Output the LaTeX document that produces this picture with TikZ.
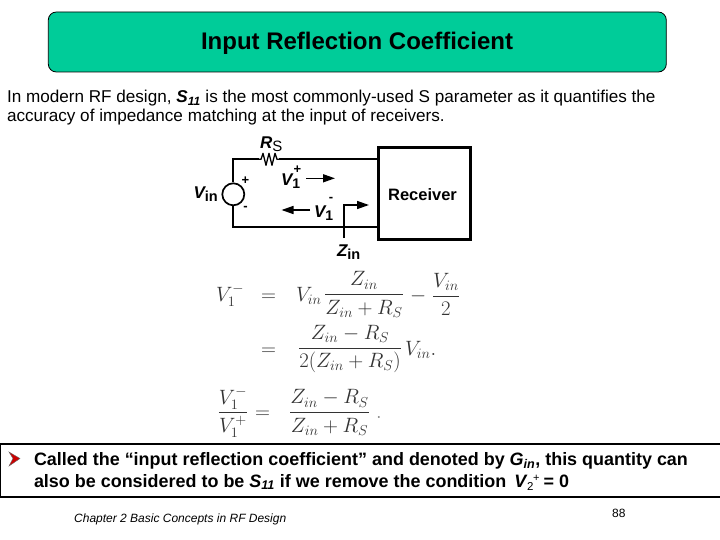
\documentclass[tikz,border=0pt]{standalone}
\usepackage[no-math]{fontspec}
\usepackage{amsmath}
\newfontfamily\arial{Liberation Sans}
\usetikzlibrary{arrows.meta}
\definecolor{headgreen}{HTML}{00CC99}
\definecolor{eqgray}{HTML}{333333}
\newcommand{\fsz}[1]{\fontsize{#1}{#1}\selectfont}
\tikzset{
  x=1pt,y=-1pt,
  txt/.style={inner sep=0pt,outer sep=0pt,anchor=base west,font=\arial\fsz{17.12},text=black},
  boldtxt/.style={txt,font=\arial\bfseries\fsz{17.95}},
  wire/.style={line width=1.9pt,draw=black,line join=miter},
  cirlab/.style={inner sep=0pt,outer sep=0pt,font=\arial\bfseries\itshape\fsz{17}},
  sign/.style={inner sep=0pt,outer sep=0pt,font=\arial\bfseries\fsz{13}},
  wave/.style={line width=1.5pt,-{Triangle[length=12pt,width=8pt]}},
  eqn/.style={inner sep=0pt,outer sep=0pt,anchor=base west,text=eqgray,font=\fsz{22}},
}
\begin{document}
\begin{tikzpicture}
\useasboundingbox (0,0) rectangle (720,540);
\fill[white] (0,0) rectangle (720,540);
% header
\node[draw=black,line width=0.8pt,fill=headgreen,rounded corners=8pt,minimum width=618pt,minimum height=60pt,inner sep=0pt] (head) at (357.3,42) {};
\node[inner sep=0pt,font=\arial\bfseries\fsz{24}] (title) at (357,43.5) {Input Reflection Coefficient};
% paragraph
\node[txt] (p1) at (7,103) {In modern RF design, \textit{\textbf{S}\textsubscript{\textbf{11}}} is the most commonly-used S parameter as it quantifies the};
\node[txt] (p2) at (7,122) {accuracy of impedance matching at the input of receivers.};
% circuit
\node[draw=black,line width=2.8pt,minimum width=92pt,minimum height=92pt,inner sep=0pt] (rx) at (424.3,193.8) {};
\node[inner sep=0pt,font=\arial\bfseries\fsz{16.5}] (rxt) at (422.5,194.5) {Receiver};
\node[circle,draw=black,line width=1.7pt,minimum size=22pt,inner sep=0pt] (src) at (233.3,194.3) {};
\coordinate (rl) at (259,159.3);
\coordinate (rr) at (279,159.3);
\coordinate (tc) at (233.3,159.3);
\coordinate (bc) at (233.3,226.7);
\coordinate (rxtop) at (377.7,159.3);
\coordinate (rxbot) at (377.7,226.7);
\draw[wire] (src.north) -- (tc) -- (rl);
\draw[line width=1.3pt,line join=round] (rl) -- ++(2,0) -- ++(2,-6) -- ++(3,12) -- ++(3,-12) -- ++(3,12) -- ++(3,-12) -- ++(2,6) -- (rr);
\draw[wire] (rr) -- (rxtop);
\draw[wire] (src.south) -- (bc) -- (rxbot);
\coordinate (zb) at (344,238);
\coordinate (zc) at (344,205);
\coordinate (ze) at (369,205);
\draw[line width=1.5pt] (zb) -- (zc);
\draw[wave] (343.3,205) -- (ze);
\coordinate (ap1) at (306,178.3); \coordinate (ap2) at (335,178.3);
\coordinate (am1) at (310,210); \coordinate (am2) at (281.5,210);
\draw[wave] (ap1) -- (ap2);
\draw[wave] (am1) -- (am2);
\node[cirlab,anchor=base west] (lrs) at (260,149) {R\raisebox{-2.5pt}{\textup{\fsz{15}\mdseries S}}};
\node[cirlab,anchor=base west] (lvin) at (193.5,199) {V\raisebox{-3pt}{\textup{\fsz{14.5}\bfseries in}}};
\node[cirlab,anchor=base west] (lvp) at (281,185.5) {V\raisebox{-3pt}{\textup{\fsz{14}1}}};
\node[sign] (lvps) at (297.5,170) {+};
\node[cirlab,anchor=base west] (lvm) at (314,217.5) {V\raisebox{-3pt}{\textup{\fsz{14}1}}};
\node[sign] (lvms) at (331,199) {-};
\node[sign] (sp) at (245.5,180.5) {+};
\node[sign] (sm) at (245.5,208.5) {-};
\node[cirlab,anchor=base west] (lz) at (337,256) {Z\raisebox{-3pt}{\textup{\fsz{14.5}\bfseries in}}};
% equations
\node[eqn] (e1) at (216,301) {$V_1^-$};
\node[eqn] (e2) at (261,301) {$=$};
\node[eqn] (e3) at (296,301) {$V_{in}$};
\node[eqn,anchor=center] (e4) at (364,294.5) {$\displaystyle\frac{Z_{in}}{Z_{in}+R_S}$};
\node[eqn] (e5) at (410,301) {$-$};
\node[eqn,anchor=center] (e6) at (446,294.5) {$\displaystyle\frac{V_{in}}{2}$};
\node[eqn] (e7) at (261,355) {$=$};
\node[eqn,anchor=center] (e8) at (350,349) {$\displaystyle\frac{Z_{in}-R_S}{2(Z_{in}+R_S)}$};
\node[eqn] (e9) at (405,355) {$V_{in}.$};
\node[eqn,anchor=center] (e10) at (233,412.5) {$\displaystyle\frac{V_1^-}{V_1^+}$};
\node[eqn] (e11) at (255,418) {$=$};
\node[eqn,anchor=center] (e12) at (329.5,412.5) {$\displaystyle\frac{Z_{in}-R_S}{Z_{in}+R_S}$};
\node[eqn,anchor=base west,text=gray] (e13) at (376,418) {$.$};
% bottom box
\node[draw=black,line width=2pt,fill=white,minimum width=721pt,minimum height=53pt,inner sep=0pt] (bot) at (360,470.5) {};
\fill[red!80!black,draw=black!60,line width=0.4pt] (9,452) -- (20,458.5) -- (9,466) -- (13,458.5) -- cycle;
\node[boldtxt] (b1) at (34,465) {Called the “input reflection coefficient” and denoted by \textit{G\textsubscript{in}}, this quantity can};
\node[boldtxt] (b2) at (34,487) {also be considered to be \textit{S\textsubscript{11}} if we remove the condition\hspace{3pt} \textit{V}};
\node[inner sep=0pt,anchor=base west,font=\arial\fsz{11.5}] (b2s) at (527,490) {2};
\node[inner sep=0pt,anchor=base west,font=\arial\fsz{11}] (b2p) at (533,481) {+};
\node[boldtxt,anchor=base east] (b2e) at (569,487) {= 0};
% footer
\node[inner sep=0pt,anchor=base west,font=\arial\itshape\fsz{12}] (ft) at (74,522) {Chapter 2 Basic Concepts in RF Design};
\node[inner sep=0pt,anchor=base west,font=\arial\fsz{12}] (pg) at (612,517) {88};
\end{tikzpicture}
\end{document}
